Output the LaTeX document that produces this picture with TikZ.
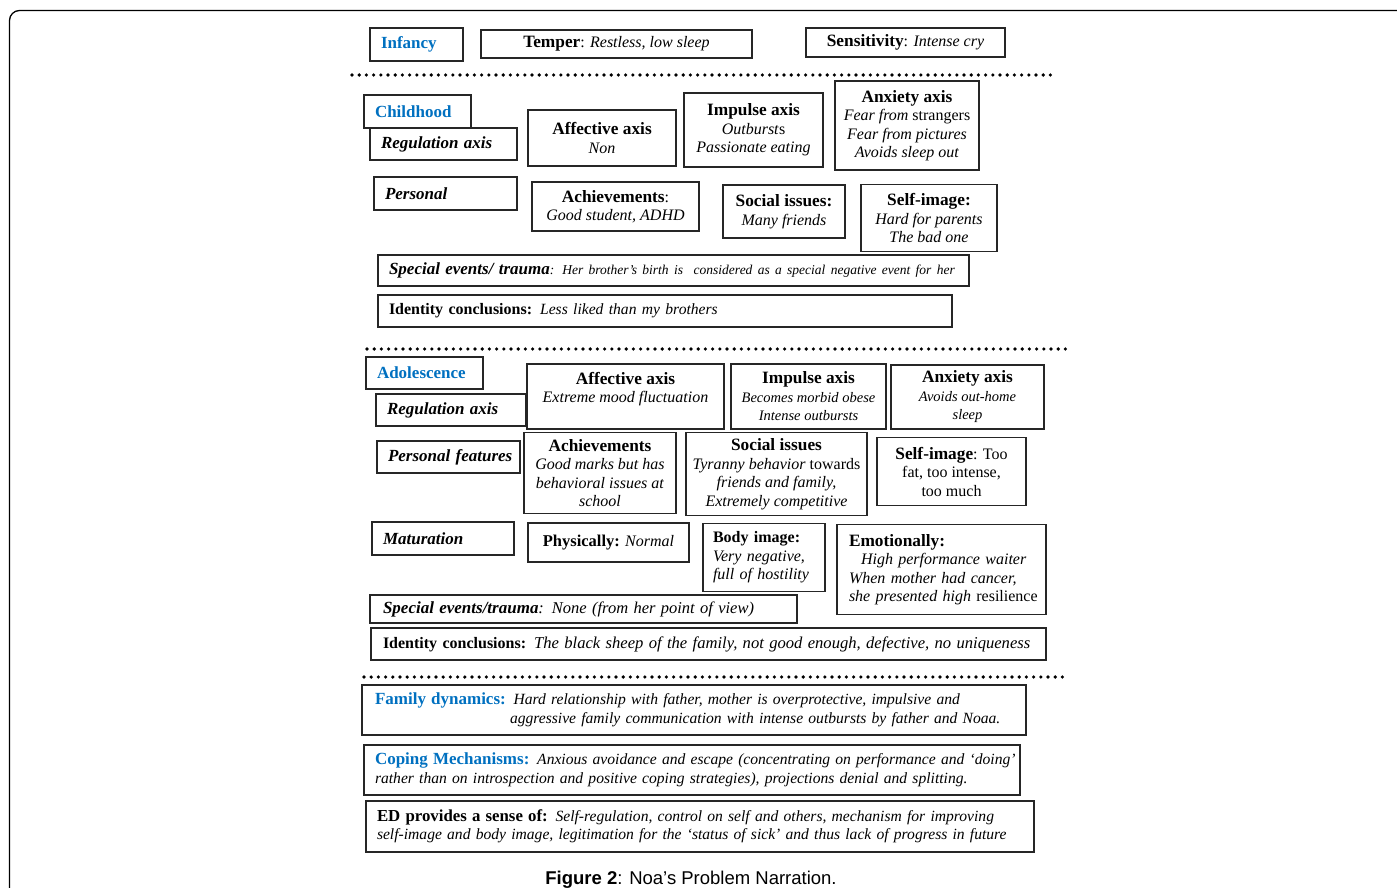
\documentclass[tikz,border=0pt]{standalone}
\usepackage{fontspec}
\setmainfont{Liberation Serif}
\newfontfamily\capfont{Liberation Sans}
\definecolor{stageblue}{RGB}{0,112,192}
\newcommand{\fsz}[1]{\fontsize{#1}{18.5}\selectfont}
\newcommand{\hd}[1]{{\fsz{17.3}\bfseries #1}}
\newcommand{\lab}[1]{{\fsz{17}\bfseries\itshape #1}}

\tikzset{
  box/.style={draw=black!85, line width=1.2pt, inner sep=0pt, align=center, font=\fsz{16}},
  lbox/.style={box, align=left, inner xsep=11pt},
  stage/.style={lbox, text=stageblue, font=\fsz{17}\bfseries},
  dotrule/.style={line width=3.6pt, line cap=round, dash pattern=on 0pt off 7.2pt},
}

\begin{document}
\begin{tikzpicture}[x=1pt, y=-1pt]
    \useasboundingbox (0,0) rectangle (1397,888);
    \clip (0,0) rectangle (1397,888);
    \draw[line width=1.3pt, rounded corners=10pt] (9.5,10.5) rectangle (1430,920);

    % infancy
    \node[stage, text width=71pt, minimum height=33pt] (infancy) at (416.5,44.5) {Infancy};
    \node[box, minimum width=271pt, minimum height=28pt] (temper) at (616.5,44) {\hd{Temper}: \textit{Restless, low sleep}};
    \node[box, minimum width=199pt, minimum height=29pt] (sensitivity) at (905.5,42.5) {\hd{Sensitivity}: \textit{Intense cry}};
    \draw[dotrule] (352,75) -- (1053,75);

    % childhood
    \node[stage, text width=85pt, minimum height=33pt] (childhood) at (417.5,111.5) {Childhood};
    \node[lbox, text width=125pt, minimum height=32pt] (regC) at (443.5,144) {\mbox{\lab{Regulation axis}}};
    \node[box, minimum width=148pt, minimum height=56pt] (affC) at (602,138) {\hd{Affective axis}\\\textit{Non}};
    \node[box, minimum width=139pt, minimum height=74pt] (impC) at (753.5,130) {\hd{Impulse axis}\\\textit{Outburst}s\\\textit{Passionate eating}};
    \node[box, minimum width=144pt, minimum height=89pt] (anxC) at (907,125.5) {\hd{Anxiety axis}\\\textit{Fear from} strangers\\\textit{Fear from pictures}\\\textit{Avoids sleep out}};
    \node[lbox, text width=121pt, minimum height=33pt] (personalC) at (445.5,193.5) {\lab{Personal}};
    \node[box, minimum width=167pt, minimum height=49pt] (achC) at (615.5,206.5) {\hd{Achievements}:\\\textit{Good student, ADHD}};
    \node[box, minimum width=122pt, minimum height=53pt] (socC) at (784,211.5) {\hd{Social issues:}\\\textit{Many friends}};
    \node[box, minimum width=136pt, minimum height=67pt] (selfC) at (929,218) {\hd{Self-image:}\\\textit{Hard for parents}\\\textit{The bad one}};
    \node[lbox, text width=569pt, minimum height=31pt] (eventsC) at (673.5,270.5) {\mbox{\lab{Special events/ trauma}\fsz{13.5}\textit{: Her brother’s birth is\ \ considered as a special negative event for her}}};
    \node[lbox, text width=552pt, minimum height=32pt] (identC) at (665,311) {\mbox{\textbf{Identity conclusions:} {\fsz{15.6}\textit{Less liked than my brothers}}}};
    \draw[dotrule] (367,349) -- (1066,349);

    % adolescence
    \node[stage, text width=95pt, minimum height=32pt] (adolescence) at (424.5,373) {Adolescence};
    \node[lbox, text width=128pt, minimum height=32pt] (regA) at (451,410) {\mbox{\lab{Regulation axis}}};
    \node[box, minimum width=197pt, minimum height=65pt] (affA) at (625.5,396.5) {\hd{Affective axis}\\\textit{Extreme mood fluctuation}\\\mbox{}};
    \node[box, minimum width=155pt, minimum height=65pt, font=\fsz{14.5}] (impA) at (808.5,396.5) {\hd{Impulse axis}\\\textit{Becomes morbid obese}\\\textit{Intense outbursts}};
    \node[box, minimum width=153pt, minimum height=64pt, font=\fsz{14.5}] (anxA) at (967.5,397) {\hd{Anxiety axis}\\\textit{Avoids out-home}\\\textit{sleep}};
    \node[lbox, text width=121pt, minimum height=32pt] (persA) at (448.5,457) {\mbox{\lab{Personal features}}};
    \node[box, minimum width=152pt, minimum height=81pt] (achA) at (600,473) {\hd{Achievements}\\\textit{Good marks but has}\\\textit{behavioral issues at}\\\textit{school}};
    \node[box, minimum width=181pt, minimum height=83pt] (socA) at (776.5,474) {\hd{Social issues}\\\textit{Tyranny behavior} towards\\\textit{friends and family,}\\\textit{Extremely competitive}};
    \node[box, minimum width=149pt, minimum height=68pt] (selfA) at (951.5,471.5) {\hd{Self-image}: Too\\fat, too intense,\\too much};
    \node[lbox, text width=120pt, minimum height=33pt] (matA) at (443,538.5) {\lab{Maturation}};
    \node[box, minimum width=161pt, minimum height=39pt] (physA) at (608.5,542.5) {{\fsz{16.5}\bfseries Physically:} \textit{Normal}};
    \node[lbox, inner xsep=10pt, text width=102pt, minimum height=68pt] (bodyA) at (764,557.5) {\textbf{Body image:}\\\textit{Very negative,}\\\mbox{\textit{full of hostility}}};
    \node[lbox, inner xsep=12pt, text width=185pt, minimum height=90pt] (emoA) at (941.5,569.5) {\hd{Emotionally:}\\\hspace*{12pt}\textit{High performance waiter}\\\textit{When mother had cancer,}\\\mbox{\textit{she presented high} resilience}};
    \node[lbox, inner xsep=13pt, text width=401pt, minimum height=28pt] (eventsA) at (583.5,609) {\mbox{\lab{Special events/trauma}{\fsz{16.5}\textit{: None (from her point of view)}}}};
    \node[lbox, inner xsep=12pt, text width=651pt, minimum height=32pt] (identA) at (708.5,644) {\mbox{\textbf{Identity conclusions:} {\fsz{16.6}\textit{The black sheep of the family, not good enough, defective, no uniqueness}}}};
    \draw[dotrule] (364,677) -- (1063,677);

    % family, coping and ED
    \node[lbox, inner xsep=13pt, text width=638pt, minimum height=50pt, font=\fsz{15.6}] (family) at (694,710) {\mbox{\textcolor{stageblue}{\lab{\upshape Family dynamics:}} \textit{Hard relationship with father, mother is overprotective, impulsive and}}\\\mbox{\hspace*{135pt}\textit{aggressive family communication with intense outbursts by father and Noaa.}}};
    \node[lbox, inner xsep=11pt, text width=634pt, minimum height=50pt, font=\fsz{15.6}] (coping) at (692,770) {\mbox{\textcolor{stageblue}{\lab{\upshape Coping Mechanisms:}} \textit{Anxious avoidance and escape (concentrating on performance and ‘doing’}}\\\mbox{\textit{rather than on introspection and positive coping strategies), projections denial and splitting.}}};
    \node[lbox, inner xsep=11pt, text width=646pt, minimum height=51pt, font=\fsz{15.6}] (edsense) at (700,826.5) {\mbox{{\fsz{16.8}\bfseries ED provides a sense of:} \textit{Self-regulation, control on self and others, mechanism for improving}}\\\mbox{\textit{self-image and body image, legitimation for the ‘status of sick’ and thus lack of progress in future}}};

    \node[font=\capfont\fsz{18.5}, inner sep=0pt] (caption) at (691,880) {\textbf{Figure 2}: Noa’s Problem Narration.};
\end{tikzpicture}
\end{document}
